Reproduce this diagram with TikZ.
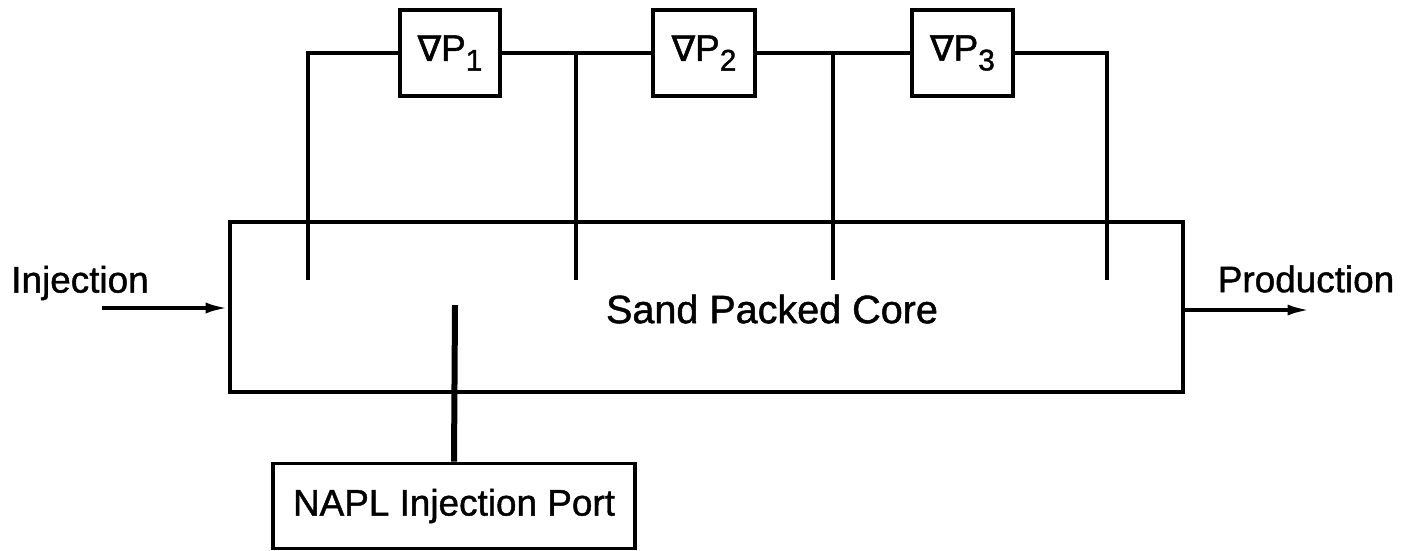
\documentclass[tikz,border=0pt]{standalone}
\usepackage{fontspec}
\setmainfont{Liberation Sans}[BoldFont={Liberation Sans},BoldFeatures={FakeBold=1.2}]
\newfontfamily\nablafont{DejaVu Sans}[BoldFont={DejaVu Sans},BoldFeatures={FakeBold=1.5}]
\usetikzlibrary{arrows.meta}
\newcommand{\gradP}[1]{{\nablafont\fontsize{20}{20}\selectfont ∇}P\raisebox{-0.5ex}{\fontsize{17}{17}\selectfont #1}}
\begin{document}
\begin{tikzpicture}[x=0.2mm,y=-0.2mm,
  wire/.style={line width=0.75mm},
  thick wire/.style={line width=1.2mm},
  box/.style={draw,line width=0.75mm,rectangle,inner sep=0pt},
  lbl/.style={font=\fontsize{21}{25}\selectfont\bfseries},
  flow/.style={line width=0.75mm,-{Latex[length=4.5mm,width=2.2mm]}}]
\useasboundingbox (0,0) rectangle (1415,550);
% core
\node[box,minimum width=190.6mm,minimum height=34mm] (core) at (706.5,307) {};
\node[font=\fontsize{22.5}{26}\selectfont\bfseries] (corelbl) at (772,309) {Sand Packed Core};
% pressure gauges
\node[box,minimum width=20mm,minimum height=17.2mm,lbl] (p1) at (450,53) {\gradP{1}};
\node[box,minimum width=20.4mm,minimum height=17.2mm,lbl] (p2) at (704,53) {\gradP{2}};
\node[box,minimum width=20.2mm,minimum height=17.2mm,lbl] (p3) at (962.5,53) {\gradP{3}};
% tap ends
\coordinate (t1) at (308,280);
\coordinate (t2) at (576,280);
\coordinate (t3) at (833,280);
\coordinate (t4) at (1107,280);
\draw[wire] (t1) |- (p1.west);
\draw[wire] (p1.east) -- (p2.west);
\draw[wire] (t2) -- (t2 |- p1.east);
\draw[wire] (p2.east) -- (p3.west);
\draw[wire] (t3) -- (t3 |- p2.east);
\draw[wire] (p3.east) -| (t4);
% NAPL
\node[box,minimum width=72.4mm,minimum height=17mm,lbl] (napl) at (454,506) {NAPL Injection Port};
\coordinate (np) at (455,305);
\draw[thick wire] (napl.north) -- (np);
% flows
\node[lbl] (inj) at (80,283) {Injection};
\node[lbl] (prod) at (1306,279) {Production};
\coordinate (ia) at (102,308);
\coordinate (pa) at (1310,310);
\draw[flow] (ia) -- (ia -| core.west);
\draw[flow] (pa -| core.east) -- (pa);
\end{tikzpicture}
\end{document}
